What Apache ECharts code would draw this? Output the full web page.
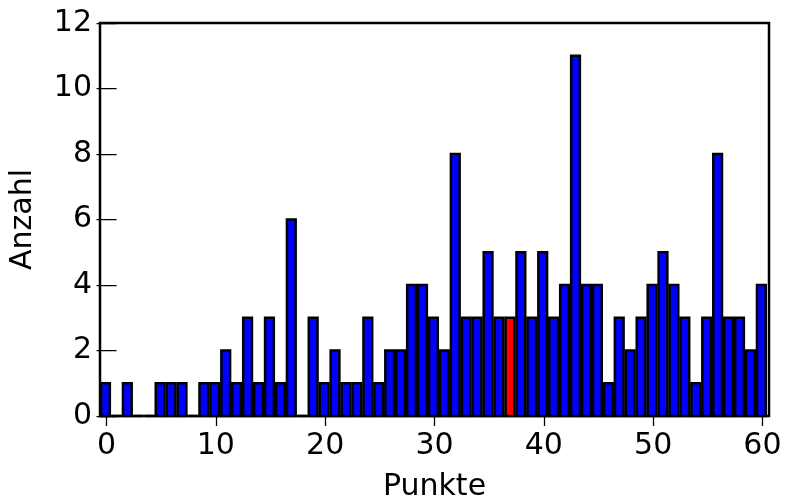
<!DOCTYPE html>
<html>
<head>
<meta charset="utf-8">
<script src="https://cdn.jsdelivr.net/npm/echarts@6/dist/echarts.min.js"></script>
<style>html,body{margin:0;padding:0;background:#fff}#chart{width:786px;height:497px}</style>
</head>
<body>
<div id="chart"></div>
<script>
const punkte = [];
for (let i = 0; i <= 60; i++) punkte.push(i);
const anzahl = [1,0,1,0,0,1,1,1,0,1, 1,2,1,3,1,3,1,6,0,3, 1,2,1,1,3,1,2,2,4,4, 3,2,8,3,3,5,3,3,5,3, 5,3,4,11,4,4,1,3,2,3, 4,5,4,3,1,3,8,3,3,2, 4];
const highlightPunkte = 37;
const xTicks = [0,10,20,30,40,50,60];
const yTicks = [0,2,4,6,8,10,12];

const font = 'DejaVu Sans';
const chart = echarts.init(document.getElementById('chart'), null, {renderer:'canvas'});
const data = punkte.map((p, i) => [p, anzahl[i]]);
const tickStyle = {show:true, inside:true, length:10, lineStyle:{color:'#000', width:1.25}};
chart.setOption({
  animation:false,
  grid:{left:100, right:17, top:23, bottom:81, containLabel:false, outerBoundsMode:'none',
        show:true, borderColor:'#000', borderWidth:2.5, backgroundColor:'transparent'},
  xAxis:[{
    type:'value', min:-0.6, max:60.6, position:'bottom',
    name:'Punkte', nameLocation:'middle', nameGap:56,
    nameTextStyle:{fontFamily:font, fontSize:30, color:'#000'},
    axisLine:{show:false}, splitLine:{show:false},
    axisTick:Object.assign({customValues:xTicks}, tickStyle),
    axisLabel:{customValues:xTicks, fontFamily:font, fontSize:30, color:'#000', margin:15}
  },{
    type:'value', min:-0.6, max:60.6, position:'top',
    axisLine:{show:false}, splitLine:{show:false},
    axisTick:Object.assign({customValues:xTicks}, tickStyle),
    axisLabel:{show:false, customValues:xTicks}
  }],
  yAxis:[{
    type:'value', min:0, max:12, interval:2, position:'left',
    name:'Anzahl', nameLocation:'middle', nameGap:62,
    nameTextStyle:{fontFamily:font, fontSize:30, color:'#000'},
    axisLine:{show:false}, splitLine:{show:false},
    axisTick:tickStyle,
    axisLabel:{fontFamily:font, fontSize:30, color:'#000', margin:8,
      formatter:v => yTicks.includes(v) ? String(v) : ''}
  },{
    type:'value', min:0, max:12, interval:2, position:'right',
    axisLine:{show:false}, splitLine:{show:false},
    axisTick:tickStyle, axisLabel:{show:false}
  }],
  series:[{
    type:'custom',
    xAxisIndex:0, yAxisIndex:0,
    data:data,
    renderItem:function(params, api){
      const x = api.value(0), v = api.value(1);
      const p0 = api.coord([x - 0.5, v]);
      const p1 = api.coord([x + 0.3, 0]);
      return {
        type:'rect',
        shape:{x:p0[0], y:p0[1], width:p1[0]-p0[0], height:p1[1]-p0[1]},
        style:{fill: x === highlightPunkte ? '#ff0000' : '#0000ff', stroke:'#000', lineWidth:2.5},
        z2:1
      };
    }
  }]
});
</script>
</body>
</html>
